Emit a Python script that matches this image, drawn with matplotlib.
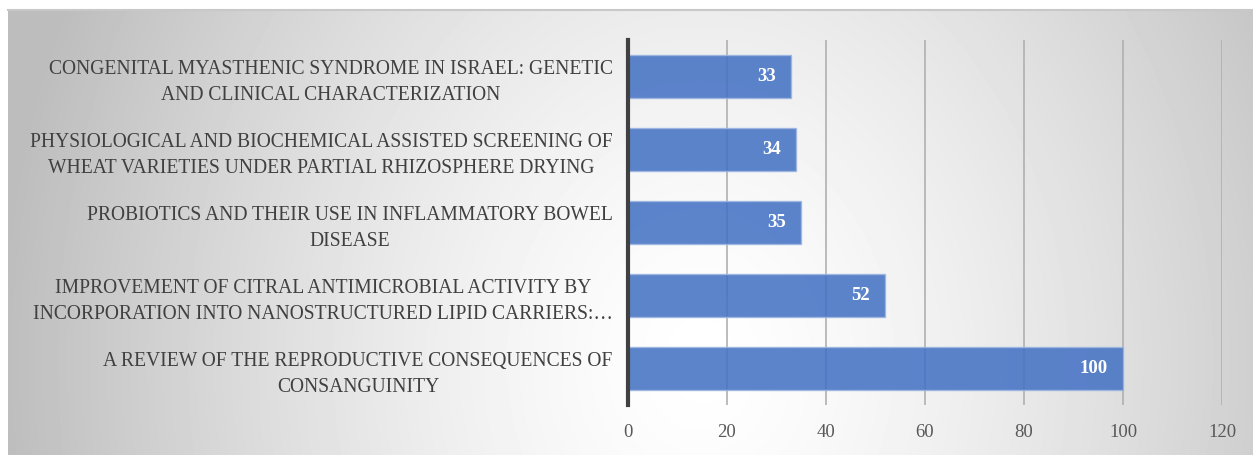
import numpy as np
import matplotlib
matplotlib.use("Agg")
import matplotlib.pyplot as plt

# article titles (top to bottom) and their citation counts
titles = [
    "CONGENITAL MYASTHENIC SYNDROME IN ISRAEL: GENETIC\nAND CLINICAL CHARACTERIZATION",
    "PHYSIOLOGICAL AND BIOCHEMICAL ASSISTED SCREENING OF\nWHEAT VARIETIES UNDER PARTIAL RHIZOSPHERE DRYING",
    "PROBIOTICS AND THEIR USE IN INFLAMMATORY BOWEL\nDISEASE",
    "IMPROVEMENT OF CITRAL ANTIMICROBIAL ACTIVITY BY\nINCORPORATION INTO NANOSTRUCTURED LIPID CARRIERS:\u2026",
    "A REVIEW OF THE REPRODUCTIVE CONSEQUENCES OF\nCONSANGUINITY",
]
citations = [33, 34, 35, 52, 100]
xticks = [0, 20, 40, 60, 80, 100, 120]

W, H = 1253, 455
fig = plt.figure(figsize=(W / 100, H / 100), dpi=100)
fig.patch.set_facecolor("white")

# grey radial backdrop, white towards the middle
bg = fig.add_axes([8 / W, 0, 1 - 8 / W, 1 - 10 / H], zorder=-2)
gx, gy = np.meshgrid(np.arange(8, W), np.arange(10, H))
t = np.sqrt(((gx - 700) / 700.0) ** 2 + ((gy - 360) / 850.0) ** 2)
shade = 1 - 0.26 * np.clip(t, 0, 1) ** 1.4
bg.imshow(shade, cmap="gray", vmin=0, vmax=1, aspect="auto",
          interpolation="bilinear")
bg.axis("off")
fig.add_artist(plt.Line2D([8 / W, 1], [1 - 10 / H, 1 - 10 / H],
                          color="#c8c8c8", lw=1.5, transform=fig.transFigure))

ax = fig.add_axes([628 / W, 1 - 405 / H, 594 / W, 365 / H])
ax.set_facecolor("none")

y = np.arange(len(titles))
bars = ax.barh(y, citations, height=0.6, color="#4472C4", alpha=0.87,
               edgecolor="#9db5e0", linewidth=1, zorder=3)

for yi, v in zip(y, citations):
    ax.annotate(str(v), (v, yi), xytext=(-11, 0), textcoords="offset points",
                ha="right", va="center", color="white", fontsize=13.5,
                fontweight="bold", family="Liberation Serif", zorder=4)

ax.set_xlim(0, 120)
ax.set_ylim(len(titles) - 0.5, -0.5)
ax.set_xticks(xticks)
ax.set_xticklabels([str(x) for x in xticks], family="Liberation Serif",
                   fontsize=13.5, color="#595959")
ax.tick_params(axis="x", length=0, pad=14)
ax.set_yticks(y)
ax.set_yticklabels(titles, family="Liberation Serif", fontsize=14.1,
                   color="#404040", multialignment="center",
                   linespacing=1.5)
ax.tick_params(axis="y", length=0, pad=11)

ax.grid(axis="x", color="#b0b0b0", lw=1.2, zorder=1)
for s in ["top", "right", "bottom"]:
    ax.spines[s].set_visible(False)
ax.spines["left"].set_color("#404040")
ax.spines["left"].set_linewidth(3)
ax.spines["left"].set_zorder(5)

fig.savefig("out.png", dpi=100)
